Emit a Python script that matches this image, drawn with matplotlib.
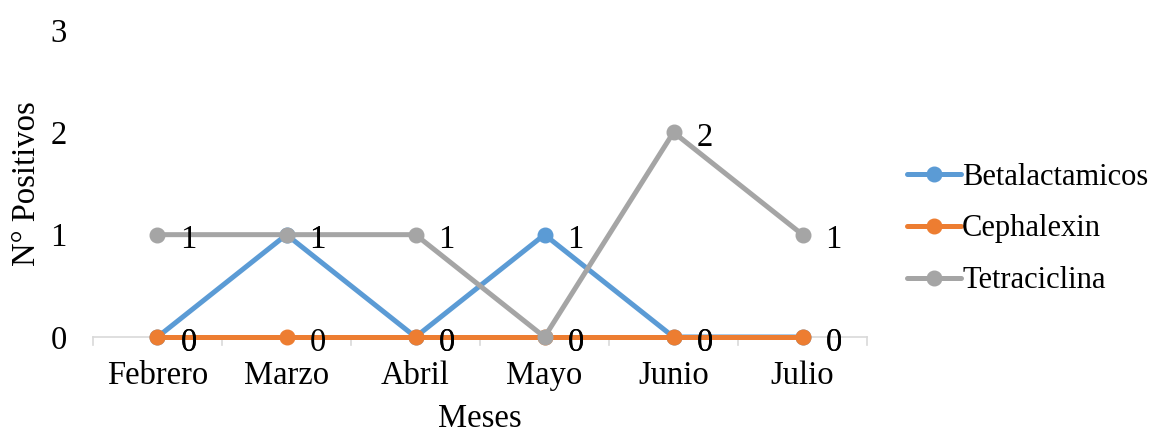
import matplotlib
matplotlib.use("Agg")
import matplotlib.pyplot as plt
from matplotlib.lines import Line2D

plt.rcParams['font.family'] = ['Liberation Serif', 'DejaVu Serif']

meses = ["Febrero", "Marzo", "Abril", "Mayo", "Junio", "Julio"]
betalactamicos = [0, 1, 0, 1, 0, 0]
cephalexin = [0, 0, 0, 0, 0, 0]
tetraciclina = [1, 1, 1, 0, 2, 1]

series = [
    ("Betalactamicos", betalactamicos, "#5B9BD5"),
    ("Cephalexin", cephalexin, "#ED7D31"),
    ("Tetraciclina", tetraciclina, "#A5A5A5"),
]

FS = 23.5

fig = plt.figure(figsize=(11.61, 4.38), dpi=100)
ax = fig.add_axes([0.0801, 0.2306, 0.6667, 0.7009])

x = list(range(len(meses)))
handles = []
for i, (name, vals, col) in enumerate(series):
    h, = ax.plot(x, vals, color=col, lw=3.6, marker="o", ms=10.5,
                 solid_capstyle="round", zorder=3 + i, clip_on=False)
    handles.append(h)
    for xi, v in zip(x, vals):
        ax.annotate(str(v), (xi, v), xytext=(16.5, -4), textcoords="offset points",
                    ha="left", va="center", fontsize=FS, zorder=10)

ax.set_xlim(-0.5, len(meses) - 0.5)
ax.set_ylim(0, 3)
ax.set_yticks([0, 1, 2, 3])
ax.set_xticks(x)
ax.set_xticklabels(meses)

for s in ["top", "right", "left"]:
    ax.spines[s].set_visible(False)
ax.spines["bottom"].set_color("#D9D9D9")
ax.spines["bottom"].set_linewidth(1.2)

# category separators under the axis line
ax.tick_params(axis="x", length=0, labelsize=FS, pad=17)
ax.tick_params(axis="y", length=0, labelsize=FS, pad=19)
for b in [i - 0.5 for i in range(len(meses) + 1)]:
    ax.add_line(Line2D([b, b], [0, -0.08], color="#D9D9D9", lw=1.2,
                       clip_on=False, transform=ax.transData))

ax.set_xlabel("Meses", fontsize=FS, labelpad=9)
ax.set_ylabel("N° Positivos", fontsize=FS, labelpad=6)

ax.legend(handles=handles, labels=[s[0] for s in series], loc="center left",
          bbox_to_anchor=(1.0517, 0.352), frameon=False, fontsize=22,
          borderpad=0, borderaxespad=0,
          handlelength=1.75, handletextpad=0.05, labelspacing=0.75)

fig.savefig("out.png", dpi=100)
